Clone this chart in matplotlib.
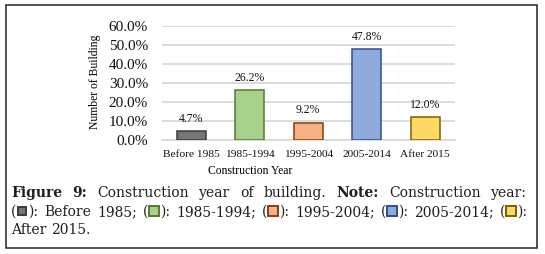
import matplotlib
matplotlib.use("Agg")
import matplotlib.pyplot as plt
from matplotlib.patches import Rectangle
from matplotlib.transforms import IdentityTransform
from matplotlib.ticker import PercentFormatter

# data
categories = ["Before 1985", "1985-1994", "1995-2004", "2005-2014", "After 2015"]
shares = [4.7, 26.2, 9.2, 47.8, 12.0]
face_colors = ["#767676", "#a9d18e", "#f4b183", "#8faadc", "#ffd966"]
edge_colors = ["#3a3a3a", "#4f7a31", "#8a3d0c", "#2f4f8a", "#7f6000"]
y_ticks = [0, 10, 20, 30, 40, 50, 60]

W, H = 545, 254
SERIF = "Liberation Serif"
CAP_FONT = "DejaVu Serif"

fig = plt.figure(figsize=(W / 100, H / 100), dpi=100)
fig.patch.set_facecolor("white")

# outer frame
fig.add_artist(Rectangle((6, 6), 531, 243, transform=IdentityTransform(),
                         fill=False, edgecolor="#222222", linewidth=1.1))

# chart area (pixel coords converted to figure fractions)
left, right, top, bottom = 162, 454.5, 26, 140
ax = fig.add_axes([left / W, (H - bottom) / H, (right - left) / W, (bottom - top) / H])

x = range(len(categories))
bars = ax.bar(x, shares, width=0.5, color=face_colors, edgecolor=edge_colors,
              linewidth=1.1, zorder=3)
for b, v in zip(bars, shares):
    ax.annotate(f"{v:.1f}%", (b.get_x() + b.get_width() / 2, v),
                xytext=(0, 4.5), textcoords="offset points",
                ha="center", va="bottom", fontsize=8.5, family=SERIF, color="#111111")

ax.set_xlim(-0.5, len(categories) - 0.5)
ax.set_ylim(0, 60)
ax.set_yticks(y_ticks)
ax.yaxis.set_major_formatter(PercentFormatter(decimals=1))
ax.set_xticks(list(x))
ax.set_xticklabels(categories)
ax.grid(axis="y", color="#d9d9d9", linewidth=1.3, zorder=0)
ax.set_axisbelow(True)
for s in ["top", "right", "left"]:
    ax.spines[s].set_visible(False)
ax.spines["bottom"].set_color("#d9d9d9")
ax.spines["bottom"].set_linewidth(1.3)
ax.tick_params(length=0)
ax.tick_params(axis="y", pad=10, labelsize=11, labelcolor="#111111")
ax.tick_params(axis="x", pad=7, labelsize=8.2, labelcolor="#111111")
for lab in ax.get_xticklabels() + ax.get_yticklabels():
    lab.set_family(SERIF)

fig.text(95, H - 82, "Number of Building", transform=IdentityTransform(),
         rotation=90, ha="center", va="center", fontsize=8.4, family=SERIF)
fig.text(250, H - 171, "Construction Year", transform=IdentityTransform(),
         ha="center", va="center", fontsize=8.4, family=SERIF)

# caption, justified like the source
CAP_SIZE = 10
CAP_COLOR = "#1e1e1e"
SQ = 10
renderer = fig.canvas.get_renderer()


def text_width(s, bold=False):
    t = fig.text(0, 0, s, fontsize=CAP_SIZE, family=CAP_FONT,
                 fontweight="bold" if bold else "normal")
    w = t.get_window_extent(renderer).width
    t.remove()
    return w


def piece_width(p):
    if p[0] == "sq":
        return SQ + 2
    return text_width(p[1], p[2])


def place_line(words, y_base, x0=11, x1=527, justify=True):
    widths = [sum(piece_width(p) for p in w) for w in words]
    if justify and len(words) > 1:
        gap = (x1 - x0 - sum(widths)) / (len(words) - 1)
    else:
        gap = text_width(" ")
    xx = x0
    for w, ww in zip(words, widths):
        px = xx
        for p in w:
            if p[0] == "sq":
                fc, ec = p[1], p[2]
                size = SQ - 2 if fc == face_colors[0] else SQ
                off = (SQ - size) / 2
                fig.add_artist(Rectangle((px + 1 + off, H - y_base + 0.5 + off), size, size,
                                         transform=IdentityTransform(), facecolor=fc,
                                         edgecolor=ec, linewidth=1.4))
            else:
                fig.text(px, H - y_base, p[1], transform=IdentityTransform(),
                         ha="left", va="baseline", fontsize=CAP_SIZE, family=CAP_FONT,
                         fontweight="bold" if p[2] else "normal", color=CAP_COLOR)
            px += piece_width(p)
        xx += ww + gap


def t(s, bold=False):
    return ("t", s, bold)


line1 = [[t("Figure", True)], [t("9:", True)], [t("Construction")], [t("year")], [t("of")],
         [t("building.")], [t("Note:", True)], [t("Construction")], [t("year:")]]
line2 = []
labels2 = ["Before 1985;", "1985-1994;", "1995-2004;", "2005-2014;", None]
for fc, ec, lab in zip(face_colors, edge_colors, labels2):
    line2.append([t("("), ("sq", fc, ec), t("):")])
    if lab is not None:
        for word in lab.split(" "):
            line2.append([t(word)])
line3 = [[t("After")], [t("2015.")]]

place_line(line1, 197)
place_line(line2, 216)
place_line(line3, 234, justify=False)

fig.savefig("out.png", dpi=100, facecolor="white")
